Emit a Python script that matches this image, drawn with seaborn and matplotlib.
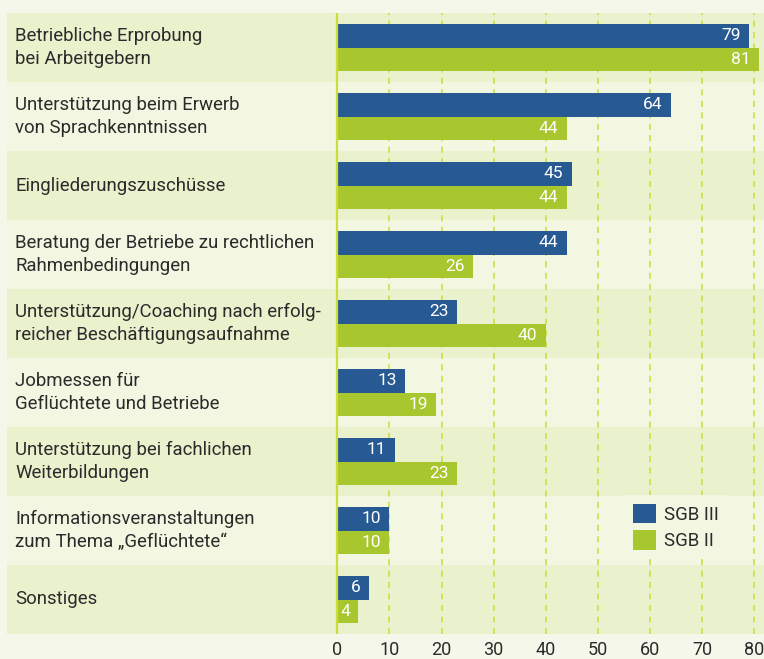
import matplotlib
matplotlib.use("Agg")
import matplotlib.pyplot as plt
import matplotlib.transforms as mtransforms
import pandas as pd
import seaborn as sns

categories = [
    "Betriebliche Erprobung\nbei Arbeitgebern",
    "Unterstützung beim Erwerb\nvon Sprachkenntnissen",
    "Eingliederungszuschüsse",
    "Beratung der Betriebe zu rechtlichen\nRahmenbedingungen",
    "Unterstützung/Coaching nach erfolg-\nreicher Beschäftigungsaufnahme",
    "Jobmessen für\nGeflüchtete und Betriebe",
    "Unterstützung bei fachlichen\nWeiterbildungen",
    "Informationsveranstaltungen\nzum Thema „Geflüchtete“",
    "Sonstiges",
]
sgb3 = [79, 64, 45, 44, 23, 13, 11, 10, 6]
sgb2 = [81, 44, 44, 26, 40, 19, 23, 10, 4]
series = ["SGB III", "SGB II"]
xticks = [0, 10, 20, 30, 40, 50, 60, 70, 80]

BG = "#f5f7ea"
ROW_DARK = "#eaf1cd"
ROW_LIGHT = "#f3f6e1"
BLUE = "#275a93"
GREEN = "#a8c62d"
GRID = "#c9de3c"
TEXT = "#2b2b2b"

plt.rcParams["font.family"] = ["Roboto", "DejaVu Sans"]

df = pd.DataFrame({
    "cat": categories * 2,
    "value": sgb3 + sgb2,
    "series": [series[0]] * len(categories) + [series[1]] * len(categories),
})

fig = plt.figure(figsize=(7.64, 6.59), dpi=100, facecolor=BG)
ax = fig.add_axes([7 / 764, 25 / 659, 757 / 764, 621 / 659])
ax.set_facecolor(BG)

sns.barplot(data=df, y="cat", x="value", hue="series", hue_order=series,
            order=categories, orient="h", width=0.68, gap=0,
            palette=[BLUE, GREEN], saturation=1, ax=ax, legend=True, zorder=2)

# alternating row bands
for i in range(len(categories)):
    ax.axhspan(i - 0.5, i + 0.5, color=ROW_DARK if i % 2 == 0 else ROW_LIGHT,
               zorder=0, lw=0)

ax.set_ylim(len(categories) - 0.5, -0.5)
ax.set_xlim(-63.4, 81.9)

# grid
for v in xticks[1:]:
    ax.axvline(v, color=GRID, lw=1.1, ls=(0, (4, 3.5)), zorder=0.5)
ax.axvline(0, color=GRID, lw=1.6, zorder=3)

# category labels inside the plot area
trans = mtransforms.blended_transform_factory(ax.transAxes, ax.transData)
for i, c in enumerate(categories):
    ax.text(0.011, i, c, transform=trans, ha="left", va="center",
            fontsize=13.4, color=TEXT, linespacing=1.4)

# value labels inside the bar ends
for cont in ax.containers:
    texts = ax.bar_label(cont, padding=-6, color="white", fontsize=12.5)
    for t in texts:
        t.set_ha("right")

ax.set_xticks(xticks)
ax.set_yticks([])
ax.set_xlabel("")
ax.set_ylabel("")
ax.tick_params(axis="x", length=0, labelsize=13, labelcolor=TEXT, pad=5)
for s in ax.spines.values():
    s.set_visible(False)

handles, labels = ax.get_legend_handles_labels()
ax.legend(handles, labels, loc="upper left",
          bbox_to_anchor=(615 / 764, 1 - 486 / 659), bbox_transform=fig.transFigure,
          frameon=True, facecolor=ROW_LIGHT, edgecolor="none", framealpha=1,
          fancybox=False, fontsize=13.4, handlelength=1.25, handleheight=1.25,
          handletextpad=0.45, labelspacing=0.35, borderpad=0.45,
          labelcolor=TEXT)

fig.savefig("out.png", dpi=100, facecolor=BG)
